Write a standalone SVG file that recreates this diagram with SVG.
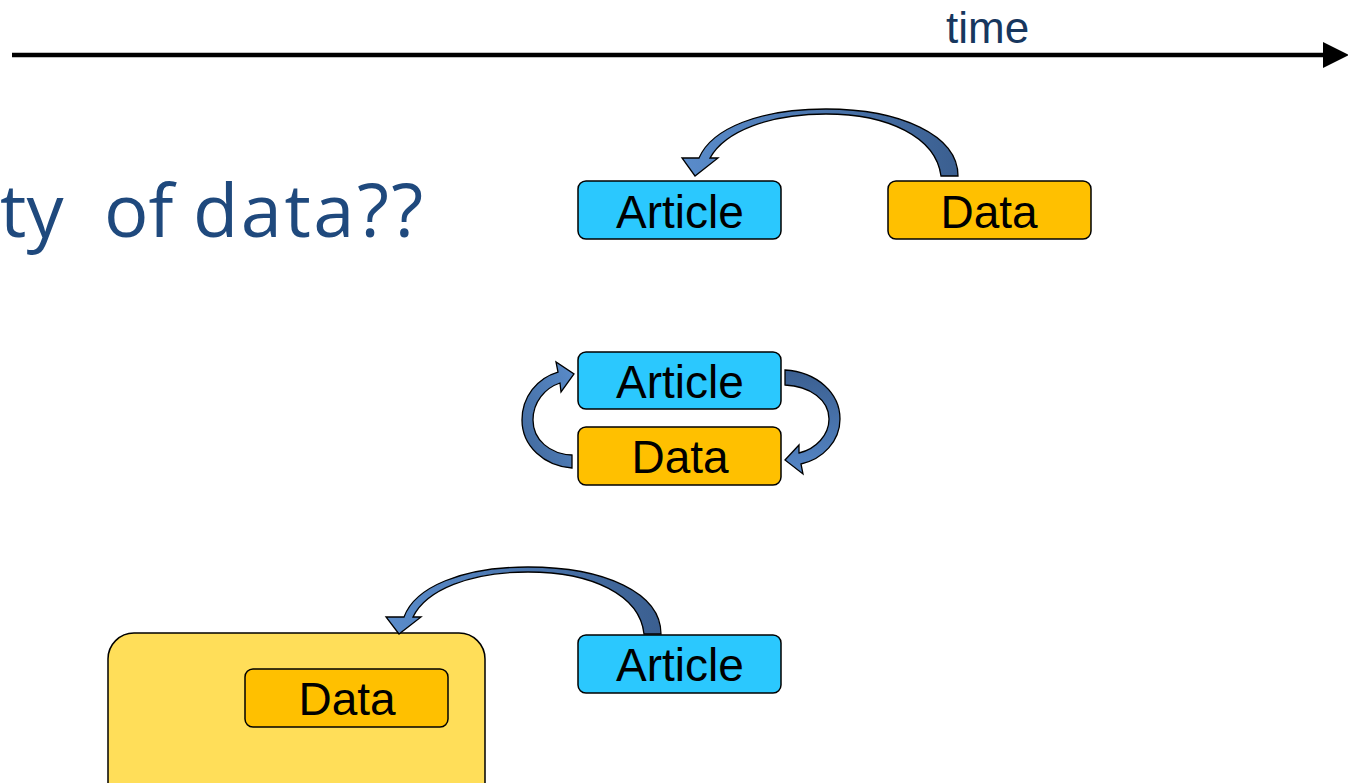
<svg xmlns="http://www.w3.org/2000/svg" width="1348" height="783" viewBox="0 0 1348 783">
  <defs>
    <style>
      .box { stroke: #000; stroke-width: 1.5; }
      .article { fill: #2BC8FE; }
      .data { fill: #FFC000; }
      .label { font-family: "Liberation Sans", Arial, sans-serif; font-size: 46px; fill: #000; text-anchor: middle; }
      .curve { stroke: #000; stroke-width: 1.3; stroke-linejoin: miter; }
    </style>
    <linearGradient id="blueLR" x1="0" y1="0" x2="1" y2="0">
      <stop offset="0" stop-color="#5A8CCB"/>
      <stop offset="1" stop-color="#3B5F90"/>
    </linearGradient>
    <linearGradient id="blueLeft" x1="0" y1="1" x2="1" y2="0">
      <stop offset="0" stop-color="#40679A"/>
      <stop offset="1" stop-color="#5A8CCB"/>
    </linearGradient>
    <linearGradient id="blueRight" x1="0" y1="0" x2="0" y2="1">
      <stop offset="0" stop-color="#3B5F90"/>
      <stop offset="1" stop-color="#5586C6"/>
    </linearGradient>
    <marker id="timeHead" markerUnits="userSpaceOnUse" markerWidth="26" markerHeight="28" refX="0" refY="13" orient="auto">
      <path d="M0,0 L26,13 L0,26 Z" fill="#000"/>
    </marker>
  </defs>

  <!-- time axis -->
  <g id="time-axis">
    <line x1="12" y1="55" x2="1323" y2="55" stroke="#000" stroke-width="4.5" marker-end="url(#timeHead)"/>
    <text x="946" y="43" font-family="Liberation Sans, Arial, sans-serif" font-size="44" fill="#17375E">time</text>
  </g>

  <!-- heading fragment -->
  <text id="heading" y="237" font-family="'Open Sans', 'Noto Sans', sans-serif" font-size="74" fill="#1F497D"><tspan x="0">ty</tspan><tspan x="104">of</tspan><tspan x="193" letter-spacing="2.5">data??</tspan></text>

  <!-- large container around the lower Data block -->
  <g id="container">
    <rect x="108" y="633" width="377" height="190" rx="26" fill="#FFDE59" stroke="#000" stroke-width="1.5"/>
  </g>

  <!-- row 1 -->
  <g id="article-1">
    <rect class="box article" x="578" y="181" width="203" height="58" rx="8"/>
    <text class="label" x="680" y="228">Article</text>
  </g>
  <g id="data-1">
    <rect class="box data" x="888" y="181" width="203" height="58" rx="8"/>
    <text class="label" x="989" y="228">Data</text>
  </g>

  <!-- row 2 -->
  <g id="article-2">
    <rect class="box article" x="578" y="352" width="203" height="57" rx="8"/>
    <text class="label" x="680" y="398">Article</text>
  </g>
  <g id="data-2">
    <rect class="box data" x="578" y="427" width="203" height="58" rx="8"/>
    <text class="label" x="680" y="473">Data</text>
  </g>

  <!-- row 3 -->
  <g id="article-3">
    <rect class="box article" x="578" y="635" width="203" height="58" rx="8"/>
    <text class="label" x="680" y="681">Article</text>
  </g>
  <g id="data-3">
    <rect class="box data" x="245" y="669" width="203" height="58" rx="8"/>
    <text class="label" x="347" y="715">Data</text>
  </g>

  <!-- curved block arrows -->
  <g id="connectors">
    <!-- Data to Article, row 1 -->
    <path class="curve" fill="url(#blueLR)" d="M958,176 C958,135 900,109 826,109 C760,109 712,128 699,158 L682,158 L695,176 L718,158 L710,158 C725,131 770,114 826,114 C888,114 936,137 941,176 Z"/>
    <!-- Data to Article, row 2 (left loop) -->
    <path class="curve" fill="url(#blueLeft)" d="M572,468 C544,466 522,446 522,420 C522,397 537,378 558,372 L556,362 L574,374 L561,392 L560,383 C545,388 533,402 533,420 C533,440 550,454 572,455 Z"/>
    <!-- Article to Data, row 2 (right loop) -->
    <path class="curve" fill="url(#blueRight)" d="M785,370 C817,372 840,393 840,419 C840,441 823,459 801,464 L803,474 L785,460 L799,445 L799,453 C816,449 829,435 829,419 C829,400 810,386 785,385 Z"/>
    <!-- Article to container, row 3 -->
    <path class="curve" fill="url(#blueLR)" d="M661,634 C661,593 605,567 528,567 C462,567 415,587 404,617 L386,617 L399,634 L421,617 L413,617 C426,590 470,572 528,572 C592,572 640,595 644,634 Z"/>
  </g>
</svg>
